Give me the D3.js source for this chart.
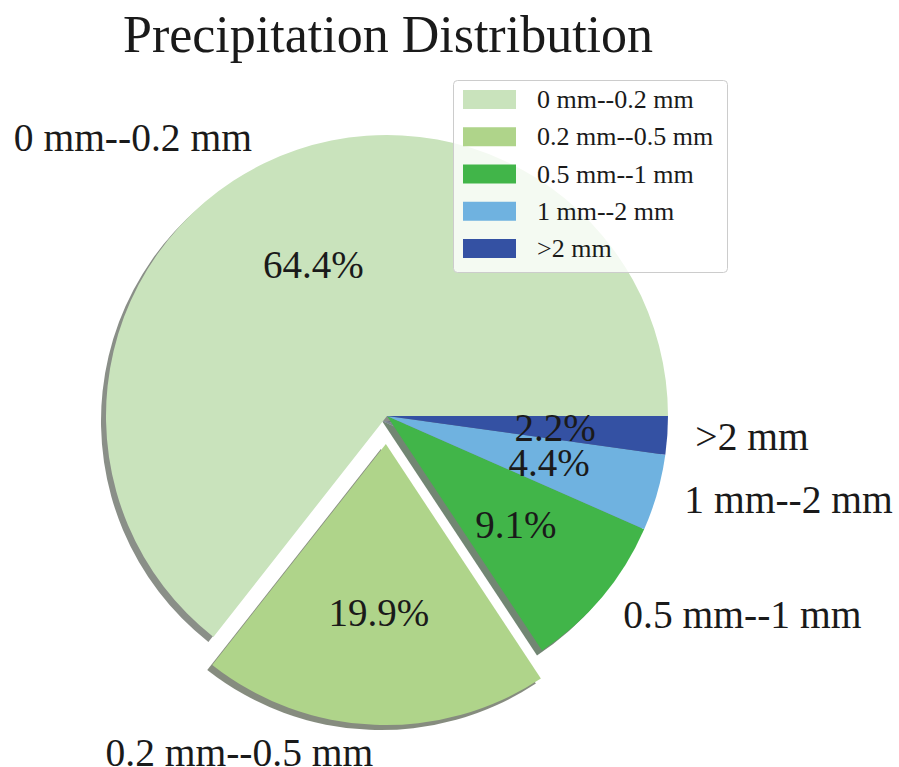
<!DOCTYPE html>
<html>
<head>
<meta charset="utf-8">
<script src="https://cdn.jsdelivr.net/npm/d3@7/dist/d3.min.js"></script>
<style>
  html, body { margin: 0; padding: 0; background: #ffffff; }
  svg { display: block; }
  text { font-family: "Liberation Serif", "Times New Roman", serif; fill: #1a1a1a; }
</style>
</head>
<body>
<svg id="chart" width="899" height="767"></svg>
<script>
// Precipitation classes and their shares (%)
const categories = ["0 mm--0.2 mm", "0.2 mm--0.5 mm", "0.5 mm--1 mm", "1 mm--2 mm", ">2 mm"];
const shares = [64.4, 19.9, 9.1, 4.4, 2.2];
const explode = [0, 0.1, 0, 0, 0];
const colors = ["#c9e3bc", "#afd48a", "#41b549", "#6fb2e0", "#3451a3"];
const titleText = "Precipitation Distribution";

const svg = d3.select("#chart");
const cx = 387, cy = 416, R = 281;
const shadowDx = -5, shadowDy = 5;

const data = categories.map((c, i) => ({ name: c, value: shares[i], color: colors[i], explode: explode[i] }));

// Start at 3 o'clock and run counter-clockwise
const pie = d3.pie().sort(null).value(d => d.value)
  .startAngle(Math.PI / 2).endAngle(Math.PI / 2 - 2 * Math.PI);
const arcs = pie(data);
const arc = d3.arc().innerRadius(0).outerRadius(R);

function offsetOf(d, dist) {
  const a = (d.startAngle + d.endAngle) / 2;
  return [dist * Math.sin(a), -dist * Math.cos(a)];
}

const g = svg.append("g").attr("transform", `translate(${cx},${cy})`);

// Shadows
g.append("g").selectAll("path").data(arcs).join("path")
  .attr("d", arc)
  .attr("transform", d => {
    const [ox, oy] = offsetOf(d, d.data.explode * R);
    return `translate(${ox + shadowDx},${oy + shadowDy})`;
  })
  .attr("fill", d => { const c = d3.rgb(d.data.color); return d3.rgb(c.r * 0.3, c.g * 0.3, c.b * 0.3); })
  .attr("fill-opacity", 0.6);

// Wedges
g.append("g").selectAll("path").data(arcs).join("path")
  .attr("d", arc)
  .attr("transform", d => {
    const [ox, oy] = offsetOf(d, d.data.explode * R);
    return `translate(${ox},${oy})`;
  })
  .attr("fill", d => d.data.color);

// Percentage labels
g.append("g").selectAll("text").data(arcs).join("text")
  .attr("x", d => { const [ox] = offsetOf(d, d.data.explode * R); return ox + offsetOf(d, 0.6 * R)[0]; })
  .attr("y", d => { const [, oy] = offsetOf(d, d.data.explode * R); return oy + offsetOf(d, 0.6 * R)[1]; })
  .attr("text-anchor", "middle")
  .attr("dominant-baseline", "central")
  .style("font-size", "39px")
  .text(d => d.data.value.toFixed(1) + "%");

// Category labels outside the pie
g.append("g").selectAll("text").data(arcs).join("text")
  .each(function (d) {
    const [ox, oy] = offsetOf(d, d.data.explode * R);
    const [lx, ly] = offsetOf(d, 1.1 * R);
    d3.select(this)
      .attr("x", ox + lx).attr("y", oy + ly)
      .attr("text-anchor", ox + lx < 0 ? "end" : "start");
  })
  .attr("dominant-baseline", "central")
  .style("font-size", "39.5px")
  .text(d => d.data.name);

// Title
svg.append("text")
  .attr("x", 388).attr("y", 52)
  .attr("text-anchor", "middle")
  .style("font-size", "52px")
  .text(titleText);

// Legend
const lg = svg.append("g").attr("transform", "translate(453,80)");
lg.append("rect")
  .attr("x", 0.5).attr("y", 0.5).attr("width", 274).attr("height", 192)
  .attr("rx", 4).attr("ry", 4)
  .attr("fill", "#ffffff").attr("fill-opacity", 0.8)
  .attr("stroke", "#cccccc").attr("stroke-width", 1);
const rowY = d3.scaleLinear().domain([0, categories.length - 1]).range([19.5, 168.5]);
const rows = lg.selectAll("g.row").data(data).join("g").attr("class", "row")
  .attr("transform", (d, i) => `translate(0,${rowY(i)})`);
rows.append("rect")
  .attr("x", 10).attr("y", -9.5).attr("width", 53).attr("height", 19)
  .attr("fill", d => d.color);
rows.append("text")
  .attr("x", 84).attr("y", 0)
  .attr("dominant-baseline", "central")
  .style("font-size", "26px")
  .text(d => d.name);
</script>
</body>
</html>
